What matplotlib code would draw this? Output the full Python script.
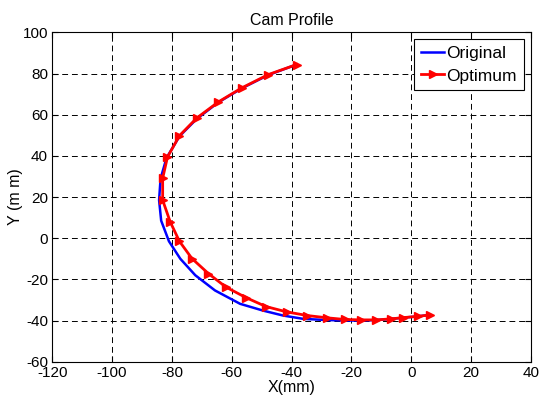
import numpy as np
import matplotlib
matplotlib.use('Agg')
import matplotlib.pyplot as plt

plt.rcParams['font.family'] = ['Liberation Sans', 'DejaVu Sans']
plt.rcParams['axes.unicode_minus'] = False

# original cam profile (blue)
x_orig = [-38.3, -47.8, -56.7, -64.5, -71.7, -77.5, -81.8, -83.8, -84.3, -83.6,
          -81.0, -77.2, -72.2, -65.6, -57.2, -49.5, -42.8, -36.1, -28.0, -22.0,
          -17.0, -11.7, -6.5, -2.6, 2.2, 6.1]
y_orig = [84.4, 79.3, 72.8, 66.0, 58.0, 49.5, 39.0, 29.0, 18.5, 8.5,
          -1.5, -10.0, -18.0, -25.4, -31.9, -35.2, -37.6, -39.2, -39.8, -40.0,
          -40.0, -39.8, -39.2, -38.6, -38.0, -37.3]

# optimum cam profile (red)
x_opt = [-38.3, -47.8, -56.7, -64.5, -71.7, -77.5, -81.5, -83.1, -83.1, -80.6,
         -77.5, -73.3, -67.8, -61.9, -55.2, -48.6, -41.7, -34.7, -28.1, -22.2,
         -16.7, -11.7, -6.7, -2.8, 2.2, 6.1]
y_opt = [84.4, 79.5, 73.0, 66.2, 58.4, 49.8, 39.4, 29.1, 18.5, 8.0,
         -1.5, -9.9, -17.2, -23.8, -28.9, -33.2, -35.8, -37.6, -38.7, -39.5,
         -39.7, -39.7, -39.2, -38.6, -38.0, -37.3]

fig = plt.figure(figsize=(5.39, 4.05), dpi=100)
ax = fig.add_axes([0.097, 0.107, 0.888, 0.813])

ax.plot(x_orig, y_orig, color='#0000ff', lw=1.8, label='Original')
ax.plot(x_opt, y_opt, color='#ff0000', lw=2.0, marker='>', markersize=6,
        label='Optimum')

ax.set_xlim(-120, 40)
ax.set_ylim(-60, 100)
ax.set_xticks(np.arange(-120, 41, 20))
ax.set_yticks(np.arange(-60, 101, 20))
ax.grid(True, color='k', linestyle=(0, (6, 4)), linewidth=0.7)
ax.tick_params(direction='in', top=True, right=True, labelsize=11,
               length=4, width=0.8)
ax.tick_params(axis='x', pad=3)
ax.tick_params(axis='y', pad=3)
for s in ax.spines.values():
    s.set_linewidth(0.8)

ax.set_title('Cam Profile', fontsize=11.5, pad=5)
ax.set_xlabel('X(mm)', fontsize=11.5, labelpad=0)
ax.set_ylabel('Y (m m)', fontsize=11.5, labelpad=0)

leg = ax.legend(loc='upper right', fontsize=12.5, fancybox=False,
                edgecolor='k', framealpha=1, handlelength=1.3,
                handletextpad=0.15, borderpad=0.4, labelspacing=0.4,
                borderaxespad=0.4)
leg.get_frame().set_linewidth(0.8)

fig.savefig('out.png', dpi=100)
